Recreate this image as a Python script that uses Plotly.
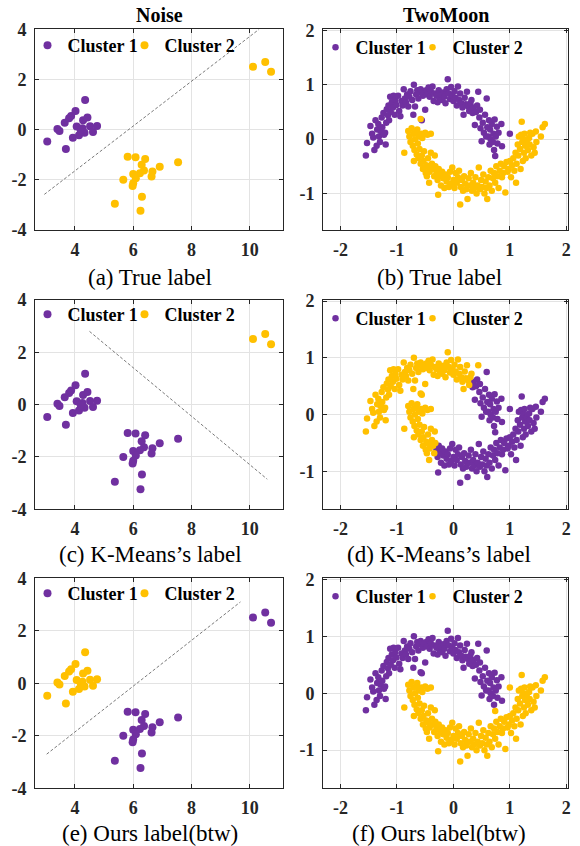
import plotly.graph_objects as go

FONT = "Liberation Serif"
PURPLE = "#7030A0"
YELLOW = "#FFC000"
AXCOL = "#262626"

# ---------------- Noise dataset ----------------
noise_left_x = [3.05, 3.40, 3.47, 3.65, 3.80, 3.87, 3.69, 4.02, 3.93, 4.06, 4.14, 4.26, 4.28, 4.33, 4.35, 4.43, 4.52, 4.62, 4.76, 4.20]
noise_left_y = [-0.47, 0.03, -0.05, 0.28, 0.45, 0.54, -0.77, 0.74, -0.32, 0.13, -0.22, 0.06, 0.37, -0.12, 1.18, 0.48, 0.14, -0.09, 0.15, -0.02]
noise_mid_x = [5.81, 6.08, 6.41, 6.29, 7.54, 6.91, 6.66, 6.63, 6.37, 6.23, 6.00, 6.09, 5.66, 6.00, 5.98, 5.37, 6.30, 6.25]
noise_mid_y = [-1.08, -1.10, -1.17, -1.40, -1.30, -1.48, -1.67, -1.87, -1.63, -1.74, -1.77, -1.94, -2.00, -2.14, -2.25, -2.95, -2.67, -3.23]
noise_far_x = [10.11, 10.53, 10.73]
noise_far_y = [2.51, 2.70, 2.31]

# separating lines
sep_a_x = [2.95, 10.32]
sep_a_y = [-2.58, 4.00]
sep_c_x = [4.50, 10.60]
sep_c_y = [2.80, -2.85]
sep_e_x = [3.03, 9.68]
sep_e_y = [-2.70, 3.10]

# ---------------- TwoMoon dataset ----------------
# upper moon, left/top part
upper_l_x = [-1.55, -1.53, -1.47, -1.44, -1.42, -1.40, -1.38, -1.36, -1.35, -1.33, -1.32, -1.30, -1.29, -1.27, -1.26, -1.24,
             -1.23, -1.21, -1.20, -1.19, -1.18, -1.16, -1.15, -1.14, -1.12, -1.11, -1.09, -1.07, -1.06, -1.04, -1.03, -1.01,
             -0.98, -0.96, -0.94, -0.92, -0.90, -0.88, -0.86, -0.84, -0.82, -0.80, -0.78, -0.76, -0.73, -0.71, -0.70, -0.68,
             -0.66, -0.64, -0.62, -0.60, -0.58, -0.56, -0.54, -0.52, -0.50, -0.48, -0.46, -0.44, -0.42, -0.40,
             -0.37, -0.35, -0.33, -0.30, -0.28, -0.26, -0.24, -0.22, -0.20, -0.18, -0.16, -0.14, -0.12, -0.10, -0.08, -0.06,
             -0.04, -0.02, 0.00, 0.02, 0.04, 0.06, 0.08, 0.10, 0.12, 0.14, 0.16, 0.18, 0.20, 0.22, 0.24, 0.26, 0.28, 0.30, 0.32, 0.44]
upper_l_y = [-0.30, -0.07, 0.24, 0.10, 0.03, -0.20, 0.35, -0.12, 0.18, 0.28, 0.05, -0.05, 0.15, 0.40, 0.22, 0.48,
             0.08, 0.12, -0.10, 0.30, 0.55, 0.44, 0.62, 0.35, 0.78, 0.50, 0.68, 0.58, 0.80, 0.45, 0.72, 0.63,
             0.80, 0.52, 0.42, 0.70, 0.62, 0.92, 0.75, 0.68, 0.82, 0.60, 0.78, 0.88, 0.72, 0.45, 1.00, 0.60,
             0.82, 0.90, 0.75, 0.86, 0.92, 0.35, 0.80, 0.88, 0.54, 0.90, 0.82, 0.95, 0.78, 0.88,
             0.97, 0.70, 0.84, 0.80, 0.68, 0.90, 0.76, 0.82, 0.72, 0.86, 0.78, 0.66, 0.92, 1.10, 0.84, 0.74,
             0.96, 0.80, 0.70, 0.88, 0.76, 0.62, 0.97, 0.72, 0.84, 0.66, 0.58, 0.45, 0.76, 0.64, 0.87, 0.60, 0.52, 0.66, 0.72, 0.87]
# upper moon, right descending part
upper_r_x = [0.34, 0.36, 0.38, 0.40, 0.42, 0.46, 0.47, 0.48, 0.50, 0.52, 0.54, 0.56, 0.58, 0.59, 0.60, 0.62,
             0.63, 0.64, 0.65, 0.66, 0.68, 0.70, 0.71, 0.72, 0.73, 0.75, 0.77, 0.78, 0.80, 0.85, 0.86]
upper_r_y = [0.48, 0.58, 0.26, 0.50, 0.62, 0.40, 0.54, 0.20, -0.04, 0.30, 0.12, 0.45, 0.05, 0.75, 0.22, 0.05,
             0.35, -0.10, 0.18, 0.00, 0.28, -0.05, 0.10, -0.20, 0.36, 0.05, 0.23, -0.08, 0.12, 0.28, -0.13]
# two stray points of the upper moon
upper_out_x = [0.74, 1.00]
upper_out_y = [-0.31, 0.10]

# lower moon, left arm
lower_l_x = [-0.87, -0.80, -0.78, -0.76, -0.74, -0.72, -0.71, -0.70, -0.69, -0.68, -0.66, -0.65, -0.64, -0.63, -0.62,
             -0.61, -0.60, -0.58, -0.57, -0.56, -0.55, -0.54, -0.53, -0.52, -0.50, -0.49, -0.48, -0.47, -0.46, -0.45,
             -0.44, -0.43, -0.42, -0.40, -0.40, -0.38, -0.36, -0.34, -0.33, -0.32]
lower_l_y = [-0.25, 0.15, 0.05, -0.05, 0.20, -0.12, 0.10, -0.40, -0.20, 0.00, 0.12, -0.28, 0.18, -0.08, -0.35,
             0.05, -0.18, -0.45, 0.10, -0.30, 0.02, -0.55, -0.40, -0.22, 0.12, -0.62, -0.48, -0.68, 0.08, -0.35,
             -0.52, -0.80, -0.60, -0.25, 0.10, -0.45, -0.55, -0.68, -0.30, -0.50]
# lower moon, bottom and right arm
lower_r_x = [-0.30, -0.28, -0.27, -0.26, -0.24, -0.22, -0.20, -0.18, -0.16, -0.14, -0.12, -0.10, -0.08, -0.06, -0.04,
             -0.02, 0.00, 0.02, 0.04, 0.06, 0.08, 0.10, 0.12, 0.13, 0.15, 0.17, 0.19, 0.21, 0.23, 0.25, 0.27, 0.29,
             0.31, 0.33, 0.35, 0.37, 0.39, 0.41, 0.43, 0.45, 0.47, 0.49, 0.51, 0.53, 0.55, 0.57, 0.59, 0.60, 0.62,
             0.64, 0.66, 0.68, 0.70, 0.72, 0.74, 0.76, 0.78, 0.80, 0.82, 0.84, 0.86, 0.88, 0.90, 0.92, 0.94, 0.96,
             0.98, 1.00, 1.02, 1.04, 1.06, 1.08, 1.10, 1.11, 1.12, 1.14, 1.15, 1.16, 1.18, 1.19, 1.20, 1.21, 1.22,
             1.23, 1.24, 1.25, 1.26, 1.27, 1.28, 1.30, 1.32, 1.34, 1.35, 1.36, 1.38, 1.40, 1.42, 1.44, 1.46, 1.47,
             1.55, 1.58, 1.62]
lower_r_y = [-0.62, -0.75, -1.02, -0.55, -0.66, -0.85, -0.60, -0.72, -0.90, -0.65, -0.78, -0.70, -0.88, -0.60, -0.82,
             -0.52, -0.75, -0.90, -0.62, -0.80, -0.70, -0.58, -1.20, -0.88, -0.75, -0.95, -0.68, -0.82, -0.92, -1.10, -0.72, -0.85,
             -0.62, -0.95, -0.80, -0.90, -0.70, -1.00, -0.85, -0.52, -0.92, -0.75, -0.88, -0.65, -1.00, -0.78, -0.90, -1.10, -0.70,
             -0.85, -0.58, -0.95, -0.72, -0.62, -0.80, -0.50, -0.68, -0.90, -0.58, -0.45, -0.70, -0.62, -0.50, -0.98, -0.42, -0.60,
             -0.55, -0.40, -0.70, -0.48, -0.35, -0.58, -0.25, -0.80, -0.45, -0.10, -0.30, 0.05, -0.18, -0.55, 0.08, 0.32, -0.05,
             -0.40, 0.00, -0.25, 0.10, -0.12, -0.35, -0.05, -0.20, 0.02, -0.10, 0.12, -0.30, 0.10, -0.15, -0.25, 0.14, -0.05,
             0.05, 0.22, 0.28]
# stray point of the lower moon
lower_out_x = [-0.58]
lower_out_y = [0.37]

# ---------------- text ----------------
noise_xticks = [4, 6, 8, 10]
noise_xtext = ["4", "6", "8", "10"]
noise_yticks = [-4, -2, 0, 2, 4]
noise_ytext = ["-4", "-2", "0", "2", "4"]
moon_xticks = [-2, -1, 0, 1, 2]
moon_xtext = ["-2", "-1", "0", "1", "2"]
moon_yticks = [-1, 0, 1, 2]
moon_ytext = ["-1", "0", "1", "2"]
captions = ["(a) True label", "(b) True label", "(c) K-Means\u2019s label",
            "(d) K-Means\u2019s label", "(e) Ours label(btw)", "(f) Ours label(btw)"]
col_titles = ["Noise", "TwoMoon"]
legend_names = ["Cluster 1", "Cluster 2"]

# ---------------- layout geometry (pixels) ----------------
W, H = 580, 846
col_x = [(35, 283), (323, 568)]
row_y = [(29.3, 230.0), (300.0, 509.3), (578.3, 788.3)]
caption_y = [277, 554, 833]
caption_x = [150, 439]
legend_mx = [(47.5, 144.5), (335.5, 432.5)]     # legend marker centres
legend_my = [(46, 48), (315, 319), (594, 597)]

fig = go.Figure()


def px2x(p):
    return p / W


def px2y(p):
    return 1 - p / H


def cat(*lists):
    out = []
    for l in lists:
        out += l
    return out


def bold(lst):
    return [f"<b>{t}</b>" for t in lst]


panels = [
    (0, 0, noise_left_x, noise_left_y, cat(noise_mid_x, noise_far_x), cat(noise_mid_y, noise_far_y), (sep_a_x, sep_a_y)),
    (1, 0, cat(upper_l_x, upper_r_x, upper_out_x), cat(upper_l_y, upper_r_y, upper_out_y),
     cat(lower_l_x, lower_r_x, lower_out_x), cat(lower_l_y, lower_r_y, lower_out_y), None),
    (0, 1, cat(noise_left_x, noise_mid_x), cat(noise_left_y, noise_mid_y), noise_far_x, noise_far_y, (sep_c_x, sep_c_y)),
    (1, 1, cat(upper_r_x, upper_out_x, lower_r_x), cat(upper_r_y, upper_out_y, lower_r_y),
     cat(upper_l_x, lower_l_x, lower_out_x), cat(upper_l_y, lower_l_y, lower_out_y), None),
    (0, 2, cat(noise_mid_x, noise_far_x), cat(noise_mid_y, noise_far_y), noise_left_x, noise_left_y, (sep_e_x, sep_e_y)),
    (1, 2, cat(upper_l_x, upper_r_x, lower_out_x), cat(upper_l_y, upper_r_y, lower_out_y),
     cat(lower_l_x, lower_r_x, upper_out_x), cat(lower_l_y, lower_r_y, upper_out_y), None),
]

layout = dict(
    width=W, height=H, margin=dict(l=0, r=0, t=0, b=0, autoexpand=False),
    paper_bgcolor="white", plot_bgcolor="white",
    font=dict(family=FONT, color="black"),
    annotations=[],
)

for i, (col, row, c1x, c1y, c2x, c2y, sep) in enumerate(panels):
    idx = i + 1
    xa = "x" if idx == 1 else f"x{idx}"
    ya = "y" if idx == 1 else f"y{idx}"
    lg1 = "legend" if i == 0 else f"legend{2 * i + 1}"
    lg2 = f"legend{2 * i + 2}"
    size = 8 if col == 0 else 6.5
    if sep is not None:
        fig.add_trace(go.Scatter(x=sep[0], y=sep[1], mode="lines", xaxis=xa, yaxis=ya, showlegend=False,
                                 line=dict(color="#7a7a7a", width=1, dash="3px,2px"), hoverinfo="skip"))
    fig.add_trace(go.Scatter(x=c1x, y=c1y, mode="markers", name=legend_names[0], xaxis=xa, yaxis=ya,
                             legend=lg1, marker=dict(color=PURPLE, size=size)))
    fig.add_trace(go.Scatter(x=c2x, y=c2y, mode="markers", name=legend_names[1], xaxis=xa, yaxis=ya,
                             legend=lg2, marker=dict(color=YELLOW, size=size)))

    x0, x1 = col_x[col]
    y0, y1 = row_y[row]
    if col == 0:
        xr, yr = [2.63, 11.14], [-4, 4]
        xt, xtt, yt, ytt = noise_xticks, noise_xtext, noise_yticks, noise_ytext
    else:
        xr, yr = [-2.31, 2.03], [-1.67, 2.02]
        xt, xtt, yt, ytt = moon_xticks, moon_xtext, moon_yticks, moon_ytext
    common = dict(showline=True, mirror="ticks", linecolor=AXCOL, linewidth=1,
                  showgrid=True, gridcolor="#e3e3e3", gridwidth=1, zeroline=False,
                  ticks="inside", ticklen=4, tickcolor=AXCOL,
                  tickfont=dict(family=FONT, size=18, color=AXCOL))
    layout["xaxis" if idx == 1 else f"xaxis{idx}"] = dict(
        common, domain=[px2x(x0), px2x(x1)], range=xr, tickvals=xt, ticktext=bold(xtt),
        anchor=ya, ticklabelstandoff=3)
    layout["yaxis" if idx == 1 else f"yaxis{idx}"] = dict(
        common, domain=[px2y(y1), px2y(y0)], range=yr, tickvals=yt, ticktext=bold(ytt),
        anchor=xa, ticklabelstandoff=4)
    for k, lg in enumerate((lg1, lg2)):
        layout[lg] = dict(
            x=px2x(legend_mx[col][k] - 20), y=px2y(legend_my[row][col] - 19),
            xanchor="left", yanchor="top", orientation="h",
            bgcolor="rgba(0,0,0,0)", borderwidth=0,
            font=dict(family=FONT, size=18, color="black", weight="bold"),
        )
    layout["annotations"].append(dict(
        text=captions[i], x=px2x(caption_x[col]), y=px2y(caption_y[row]), xref="paper", yref="paper",
        showarrow=False, xanchor="center", yanchor="middle",
        font=dict(family=FONT, size=23, color="black")))

for c in range(2):
    x0, x1 = col_x[c]
    layout["annotations"].append(dict(
        text=f"<b>{col_titles[c]}</b>", x=px2x((x0 + x1) / 2), y=px2y(15), xref="paper", yref="paper",
        showarrow=False, xanchor="center", yanchor="middle",
        font=dict(family=FONT, size=20, color="black")))

fig.update_layout(**layout)
fig.write_html("out.html", config={"displayModeBar": False},
               post_script="document.body.style.margin='0px';document.body.style.overflow='hidden';")
